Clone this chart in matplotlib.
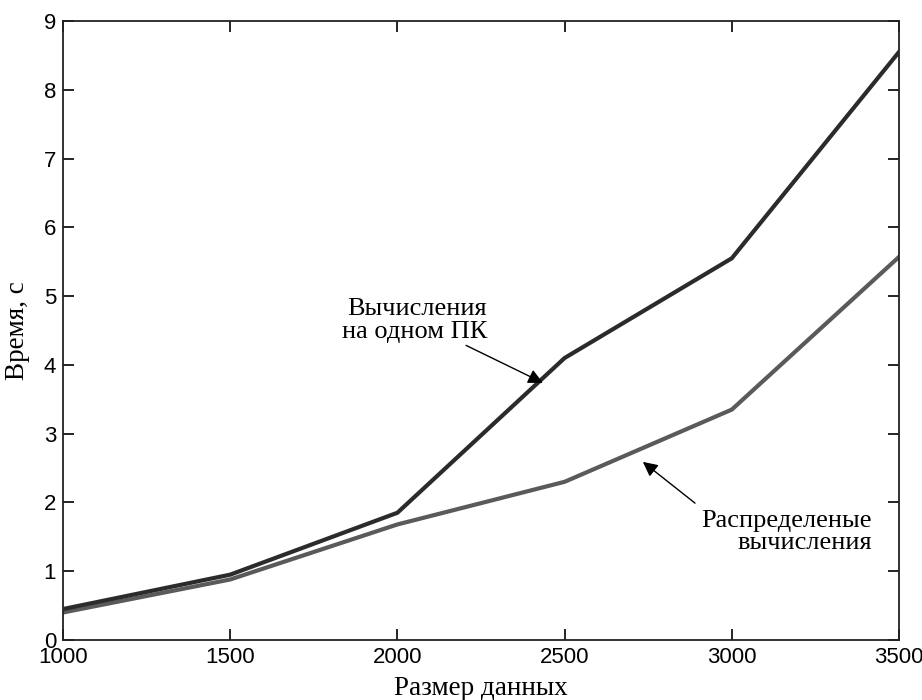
"""Время вычислений: один ПК vs распределённые вычисления."""

import matplotlib
matplotlib.use("Agg")
import matplotlib.pyplot as plt

SIZES = [1000, 1500, 2000, 2500, 3000, 3500]
T_SINGLE = [0.45, 0.95, 1.85, 4.10, 5.55, 8.55]
T_DISTRIB = [0.40, 0.88, 1.68, 2.30, 3.35, 5.57]

C_SINGLE = "#2b2b2b"
C_DISTRIB = "#5a5a5a"
SERIF = ["Liberation Serif", "DejaVu Serif"]
SANS = ["Liberation Sans Narrow", "Liberation Sans", "DejaVu Sans"]


def main():
    fig = plt.figure(figsize=(9.22, 7.0), dpi=100)
    ax = fig.add_axes([63 / 922, 60 / 700, 836 / 922, 619 / 700])

    ax.plot(SIZES, T_SINGLE, color=C_SINGLE, lw=3.0, solid_joinstyle="round", zorder=3)
    ax.plot(SIZES, T_DISTRIB, color=C_DISTRIB, lw=3.0, solid_joinstyle="round", zorder=2)

    ax.set_xlim(1000, 3500)
    ax.set_ylim(0, 9)
    ax.set_xticks(SIZES)
    ax.set_yticks(range(10))
    ax.tick_params(direction="in", length=8, width=1.2, top=True, right=True,
                   labelsize=16, pad=5)
    for lab in ax.get_xticklabels() + ax.get_yticklabels():
        lab.set_family(SANS)
    for s in ax.spines.values():
        s.set_linewidth(1.3)
        s.set_color("#222222")

    ax.set_xlabel("Размер данных", family=SERIF, fontsize=19.5, labelpad=6)
    ax.set_ylabel("Время, с", family=SERIF, fontsize=19.5, labelpad=10)

    arrow = dict(arrowstyle="-|>", color="black", lw=1.0, mutation_scale=22,
                 shrinkA=0, shrinkB=0)
    ax.annotate("Вычисления\nна одном ПК", xy=(2435, 3.74), xytext=(2268, 4.65),
                ha="right", va="center", multialignment="right", linespacing=1.05,
                family=SERIF, fontsize=19, arrowprops=arrow)
    ax.annotate("", xy=(2734, 2.59), xytext=(2890, 1.99), arrowprops=arrow)
    ax.text(3419, 1.57, "Распределеные\nвычисления", ha="right", va="center",
            multialignment="right", linespacing=1.05, family=SERIF, fontsize=19)

    fig.savefig("out.png", dpi=100)


if __name__ == "__main__":
    main()
